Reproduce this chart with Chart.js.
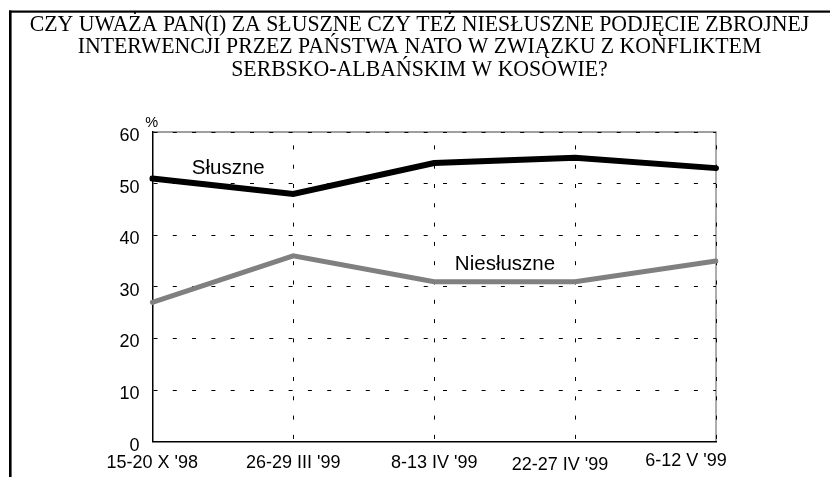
<!DOCTYPE html>
<html><head><meta charset="utf-8">
<script src="https://cdn.jsdelivr.net/npm/chart.js@4/dist/chart.umd.min.js"></script>
<style>html,body{margin:0;padding:0;background:#fff;}canvas{display:block;}</style>
</head><body>
<canvas id="c" width="830" height="477"></canvas>
<script>
const titleLines = [
  "CZY UWAŻA PAN(I) ZA SŁUSZNE CZY TEŻ NIESŁUSZNE PODJĘCIE ZBROJNEJ",
  "INTERWENCJI PRZEZ PAŃSTWA NATO W ZWIĄZKU Z KONFLIKTEM",
  "SERBSKO-ALBAŃSKIM W KOSOWIE?"
];
const categories = ["15-20 X '98", "26-29 III '99", "8-13 IV '99", "22-27 IV '99", "6-12 V '99"];
const seriesNames = ["Słuszne", "Niesłuszne"];
const sluszne = [51, 48, 54, 55, 53];
const niesluszne = [27, 36, 31, 31, 35];
const yTicks = [0, 10, 20, 30, 40, 50, 60];
const unitLabel = "%";

const SANS = '"Liberation Sans", Arial, sans-serif';
const SERIF = '"Liberation Serif", "Times New Roman", serif';

const deco = {
  id: 'deco',
  beforeDraw(chart) {
    const {ctx, chartArea: a} = chart;
    ctx.save();
    ctx.fillStyle = '#000';
    ctx.fillRect(9, 10.5, 2.6, 480);
    ctx.fillRect(9, 10.5, 830, 2.2);
    ctx.strokeStyle = '#808080';
    ctx.lineWidth = 1.3;
    ctx.beginPath();
    ctx.moveTo(a.left, a.top);
    ctx.lineTo(a.right, a.top);
    ctx.lineTo(a.right, a.bottom);
    ctx.stroke();
    ctx.restore();
    // small nudges of the last two category labels, as in the reference
    const xs = chart.scales.x;
    const items = xs.getLabelItems(a);
    const nudges = {3: [-15, 1.5], 4: [-30, -2]};
    items.forEach((it, i) => {
      if (nudges[i] && it.options && it.options.translation && !it._nudged) {
        it.options.translation[0] += nudges[i][0];
        it.options.translation[1] += nudges[i][1];
        it._nudged = true;
      }
    });
  },
  afterDraw(chart) {
    const {ctx, chartArea: a, scales: {x, y}} = chart;
    ctx.save();
    ctx.fillStyle = '#000';
    ctx.textBaseline = 'alphabetic';
    ctx.textAlign = 'center';
    ctx.font = '21.8px ' + SERIF;
    titleLines.forEach((t, i) => {
      ctx.save();
      ctx.translate(419.5, 30.7 + i * 22.7);
      ctx.scale(1, 1.1);
      ctx.fillText(t, 0, 0);
      ctx.restore();
    });
    ctx.textAlign = 'left';
    ctx.font = '14.5px ' + SANS;
    ctx.fillText(unitLabel, a.left - 7, a.top - 5);
    ctx.font = '20.5px ' + SANS;
    ctx.fillText(seriesNames[0], x.getPixelForValue(0.28), y.getPixelForValue(51.8));
    ctx.fillText(seriesNames[1], x.getPixelForValue(2.147), y.getPixelForValue(33.35));
    ctx.restore();
  }
};

new Chart(document.getElementById('c'), {
  type: 'line',
  data: {
    labels: categories,
    datasets: [
      {label: seriesNames[0], data: sluszne, borderColor: '#000', borderWidth: 6,
       pointRadius: 0, tension: 0, borderCapStyle: 'round', fill: false},
      {label: seriesNames[1], data: niesluszne, borderColor: '#808080', borderWidth: 5,
       pointRadius: 0, tension: 0, borderCapStyle: 'round', fill: false}
    ]
  },
  options: {
    responsive: false,
    animation: false,
    devicePixelRatio: 1,
    layout: {padding: {left: 0, top: 132, right: 114, bottom: 0}},
    plugins: {legend: {display: false}, tooltip: {enabled: false}, title: {display: false}},
    scales: {
      x: {
        type: 'category',
        offset: false,
        afterFit(s) { s.height = 35.3; },
        grid: {color: '#000', lineWidth: 1, drawTicks: false},
        border: {display: true, color: '#000', width: 1.5, dash: [4, 15.3], dashOffset: 5.9},
        ticks: {font: {family: SANS, size: 18}, color: '#000', padding: 11,
                maxRotation: 0, autoSkip: false}
      },
      y: {
        min: yTicks[0], max: yTicks[yTicks.length - 1],
        afterFit(s) { s.width = 152.3; },
        afterBuildTicks(s) { s.ticks = yTicks.map(v => ({value: v})); },
        grid: {color: '#000', lineWidth: 1, drawTicks: false},
        border: {display: true, color: '#000', width: 1.5, dash: [4, 15.3], dashOffset: 0},
        ticks: {font: {family: SANS, size: 18}, color: '#000', padding: 12.7, labelOffset: 4}
      }
    }
  },
  plugins: [deco]
});
</script>
</body></html>
